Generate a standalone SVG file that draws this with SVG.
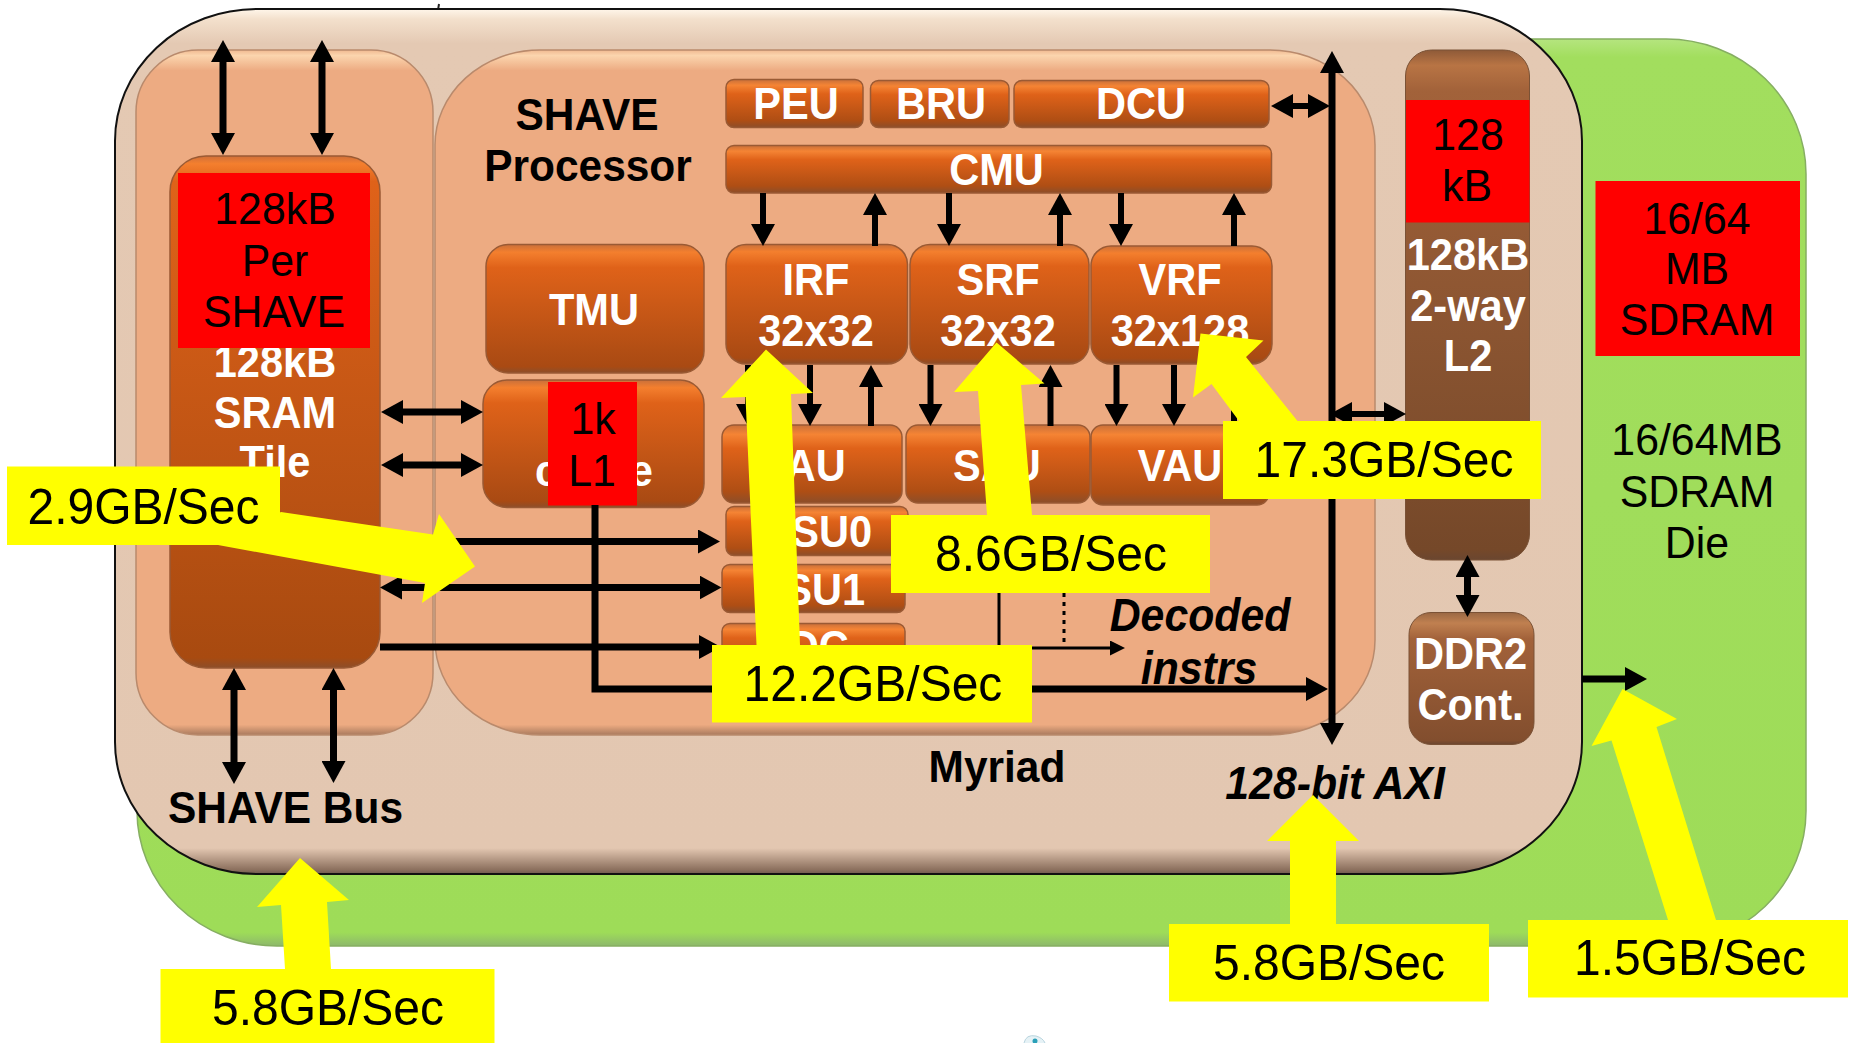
<svg xmlns="http://www.w3.org/2000/svg" width="1862" height="1043" viewBox="0 0 1862 1043">
<defs>
<linearGradient id="gGreen" x1="0" y1="0" x2="0" y2="1"><stop offset="0" stop-color="#B5E57F"/><stop offset="0.02" stop-color="#A2DE5E"/><stop offset="0.985" stop-color="#9EDC58"/><stop offset="1" stop-color="#8DB86C"/></linearGradient>
<linearGradient id="gMyr" x1="0" y1="0" x2="0" y2="1"><stop offset="0" stop-color="#FFF6EA"/><stop offset="0.012" stop-color="#F3E0CC"/><stop offset="0.04" stop-color="#E4C9B3"/><stop offset="0.97" stop-color="#E3C7B1"/><stop offset="0.995" stop-color="#8C705E"/><stop offset="1" stop-color="#6E5A50"/></linearGradient>
<linearGradient id="gPanel" x1="0" y1="0" x2="0" y2="1"><stop offset="0" stop-color="#F0B890"/><stop offset="0.008" stop-color="#FBD5AE"/><stop offset="0.03" stop-color="#EDAB82"/><stop offset="0.985" stop-color="#EDAB82"/><stop offset="1" stop-color="#A97A5E"/></linearGradient>
<linearGradient id="gSm" x1="0" y1="0" x2="0" y2="1"><stop offset="0" stop-color="#C9703A"/><stop offset="0.12" stop-color="#F58434"/><stop offset="0.3" stop-color="#DF6219"/><stop offset="0.85" stop-color="#AF4E14"/><stop offset="1" stop-color="#8C4E2A"/></linearGradient>
<linearGradient id="gMd" x1="0" y1="0" x2="0" y2="1"><stop offset="0" stop-color="#C9703A"/><stop offset="0.06" stop-color="#F47F2E"/><stop offset="0.18" stop-color="#DF6219"/><stop offset="0.95" stop-color="#A94A13"/><stop offset="1" stop-color="#8C4E2A"/></linearGradient>
<linearGradient id="gSram" x1="0" y1="0" x2="0" y2="1"><stop offset="0" stop-color="#D0703A"/><stop offset="0.015" stop-color="#F47F2E"/><stop offset="0.05" stop-color="#DF6219"/><stop offset="0.98" stop-color="#A84A10"/><stop offset="1" stop-color="#8C4E2A"/></linearGradient>
<linearGradient id="gBr" x1="0" y1="0" x2="0" y2="1"><stop offset="0" stop-color="#8E5A38"/><stop offset="0.03" stop-color="#B87444"/><stop offset="0.08" stop-color="#A2623A"/><stop offset="0.98" stop-color="#754829"/><stop offset="1" stop-color="#6A4630"/></linearGradient>
<linearGradient id="gBr2" x1="0" y1="0" x2="0" y2="1"><stop offset="0" stop-color="#9A6844"/><stop offset="0.08" stop-color="#C08050"/><stop offset="0.2" stop-color="#A2623A"/><stop offset="0.97" stop-color="#824E2E"/><stop offset="1" stop-color="#6A4630"/></linearGradient>
<marker id="h" markerUnits="userSpaceOnUse" markerWidth="22" markerHeight="24" viewBox="0 0 22 24" refX="1" refY="12" orient="auto-start-reverse"><path d="M0,0 L22,12 L0,24 Z" fill="#000"/></marker>
<marker id="s" markerUnits="userSpaceOnUse" markerWidth="15" markerHeight="15" viewBox="0 0 15 15" refX="1" refY="7.5" orient="auto-start-reverse"><path d="M0,0 L15,7.5 L0,15 Z" fill="#000"/></marker>
</defs>
<style>
text{font-family:"Liberation Sans",Arial,sans-serif;font-size:44px;text-anchor:middle;transform-box:fill-box;transform-origin:center}
.w{fill:#fff;font-weight:bold;transform:translateY(1px) scaleX(.945)}
.k{fill:#000;font-weight:bold;transform:translateY(1px) scaleX(.965)}
.i{fill:#000;font-weight:bold;font-style:italic;font-size:46px;transform:translateY(2px) scaleX(.93)}
.r{fill:#000;transform:translateY(1px) scaleX(.973)}
.y{fill:#000;font-size:50px;transform:scaleX(.96)}
.sm{fill:url(#gSm);stroke:#9A5A34;stroke-width:1.5}
.md{fill:url(#gMd);stroke:#9A5A34;stroke-width:1.5}
.red{fill:#FF0000}
.ye{fill:#FFFF00}
.pn{fill:url(#gPanel);stroke:#B98A6C;stroke-width:1.5}
.b{fill:none;stroke:#000;stroke-width:7;marker-start:url(#h);marker-end:url(#h)}
.e{fill:none;stroke:#000;stroke-width:7;marker-end:url(#h)}
.n{stroke-width:6}
</style>
<rect width="1862" height="1043" fill="#fff"/>
<path d="M439,4 L438,10" stroke="#222" stroke-width="2" fill="none"/>
<path d="M1024,1043 Q1026,1034 1036,1036 Q1043,1038 1045,1043" fill="#E6F2F6" stroke="#B8D4DE" stroke-width="1"/>
<circle cx="1035" cy="1041" r="2.5" fill="#2AA0B8"/>

<g id="sdram-die">
<rect x="137" y="39" width="1669" height="907" rx="140" ry="135" fill="url(#gGreen)" stroke="#86AE62" stroke-width="1.5"/>
<text class="r" x="1697" y="454">16/64MB</text>
<text class="r" x="1697" y="506.500">SDRAM</text>
<text class="r" x="1697" y="557.500">Die</text>
</g>
<g id="sdram-size">
<rect class="red" x="1595.5" y="181" width="204.5" height="175"/>
<text class="r" x="1697" y="233">16/64</text>
<text class="r" x="1697" y="283.500">MB</text>
<text class="r" x="1697" y="334.500">SDRAM</text>
</g>
<g id="myriad">
<rect x="115" y="9" width="1467" height="865" rx="142" ry="132" fill="url(#gMyr)" stroke="#111" stroke-width="2"/>
<text class="k" x="997" y="781">Myriad</text>
</g>
<g id="shave-bus">
<rect class="pn" x="136" y="50" width="297" height="685" rx="62" ry="62"/>
<text class="k" x="285.500" y="822">SHAVE Bus</text>
</g>
<g id="shave-processor">
<rect class="pn" x="435" y="50" width="940" height="685" rx="105" ry="95"/>
<text class="k" x="587" y="129.500">SHAVE</text>
<text class="k" x="588" y="180">Processor</text>
</g>
<g id="sram-tile">
<rect x="170" y="156" width="210" height="512" rx="36" fill="url(#gSram)" stroke="#9A5A34" stroke-width="1.5"/>
<text class="w" x="275" y="376">128kB</text>
<text class="w" x="275" y="427">SRAM</text>
<text class="w" x="275" y="476">Tile</text>
</g>
<g id="sram-size">
<rect class="red" x="178" y="173" width="192" height="175"/>
<text class="r" x="275" y="223">128kB</text>
<text class="r" x="275" y="275.500">Per</text>
<text class="r" x="274" y="326.500">SHAVE</text>
</g>
<g id="tmu"><rect class="md" x="486" y="244.500" width="218" height="128.500" rx="22"/><text class="w" x="594" y="324.500">TMU</text></g>
<g id="cache"><rect class="md" x="483" y="380" width="221" height="127.500" rx="24"/><text class="w" x="594" y="485">cache</text></g>
<g id="l1-size"><rect class="red" x="548" y="382" width="89" height="123.500"/><text class="r" x="593" y="433">1k</text><text class="r" x="592" y="485.500">L1</text></g>
<g id="peu"><rect class="sm" x="726" y="79.500" width="137" height="48" rx="8"/><text class="w" x="796" y="118.500">PEU</text></g>
<g id="bru"><rect class="sm" x="870.500" y="80.500" width="138.500" height="47" rx="8"/><text class="w" x="941" y="118.500">BRU</text></g>
<g id="dcu"><rect class="sm" x="1014" y="80.500" width="255" height="47" rx="8"/><text class="w" x="1141" y="118.500">DCU</text></g>
<g id="cmu"><rect class="sm" x="726" y="145.500" width="545.500" height="47.500" rx="8"/><text class="w" x="996.500" y="184.500">CMU</text></g>
<g id="irf"><rect class="md" x="726" y="244.500" width="181.500" height="119.500" rx="20"/><text class="w" x="816" y="294.500">IRF</text><text class="w" x="816" y="345.500">32x32</text></g>
<g id="srf"><rect class="md" x="910" y="244.500" width="179" height="119.500" rx="20"/><text class="w" x="998" y="294.500">SRF</text><text class="w" x="998" y="345.500">32x32</text></g>
<g id="vrf"><rect class="md" x="1091" y="246" width="181" height="118" rx="20"/><text class="w" x="1180" y="294.500">VRF</text><text class="w" x="1180" y="345.500">32x128</text></g>
<g id="iau"><rect class="sm" x="722" y="425" width="180" height="78" rx="12"/><text class="w" x="810" y="480">IAU</text></g>
<g id="sau"><rect class="sm" x="906" y="425" width="184" height="78" rx="12"/><text class="w" x="997" y="480">SAU</text></g>
<g id="vau"><rect class="sm" x="1091" y="425" width="178" height="80" rx="12"/><text class="w" x="1180" y="480">VAU</text></g>
<g id="lsu0"><rect class="sm" x="726" y="506.500" width="182" height="49" rx="8"/><text class="w" x="819" y="546.500">LSU0</text></g>
<g id="lsu1"><rect class="sm" x="722" y="564.500" width="183" height="48" rx="8"/><text class="w" x="812" y="604.500">LSU1</text></g>
<g id="idc"><rect class="sm" x="722" y="623.500" width="183" height="48" rx="8"/><text class="w" x="813" y="661">IDC</text></g>
<g id="l2"><rect x="1405.500" y="50" width="124" height="510" rx="26" fill="url(#gBr)" stroke="#7A5236" stroke-width="1"/>
<text class="w" x="1468" y="269">128kB</text><text class="w" x="1468" y="320">2-way</text><text class="w" x="1468" y="370.500">L2</text></g>
<g id="l2-size"><rect class="red" x="1406" y="100" width="123.500" height="122.500"/><text class="r" x="1468" y="149.500">128</text><text class="r" x="1467" y="200.500">kB</text></g>
<g id="ddr2"><rect x="1409" y="612.500" width="125" height="132" rx="22" fill="url(#gBr2)" stroke="#7A5236" stroke-width="1"/>
<text class="w" x="1470.500" y="668">DDR2</text><text class="w" x="1470.500" y="719">Cont.</text></g>
<text class="i" x="1200" y="629">Decoded</text>
<text class="i" x="1199" y="682">instrs</text>
<text class="i" x="1335" y="797">128-bit AXI</text>

<g id="connectors">
<path class="b" d="M223,61V134"/><path class="b" d="M322,61V134"/>
<path class="b" d="M234,689V763"/><path class="b" d="M333.500,689V762"/>
<path class="b" d="M402,412H462"/><path class="b" d="M402,465H462"/>
<path class="e" d="M400,541.500H699"/>
<path class="b" d="M401,587.500H700.500"/>
<path class="e" d="M380,647H700"/>
<path class="e" d="M595,505V689H1307"/>
<path d="M999,593V648H1111" fill="none" stroke="#000" stroke-width="3" marker-end="url(#s)"/>
<path d="M1064,593V648" fill="none" stroke="#000" stroke-width="3" stroke-dasharray="4 5"/>
<path class="b" d="M1332,72V724"/>
<path class="b n" d="M1292,106H1309"/>
<path class="b n" d="M1351,414H1385"/>
<path class="b" d="M1467.500,576V596"/>
<path class="e" d="M1582,679H1626"/>
<path class="e n" d="M763,193V225"/><path class="e n" d="M875,246V214"/>
<path class="e n" d="M949,193V225"/><path class="e n" d="M1060,246V214"/>
<path class="e n" d="M1121,193V225"/><path class="e n" d="M1234,246V214"/>
<path class="e n" d="M748,365V405"/><path class="e n" d="M810,365V405"/><path class="e n" d="M871,426V386"/>
<path class="e n" d="M930.500,365V405"/><path class="e n" d="M1050.500,426V386"/>
<path class="e n" d="M1116.500,365V405"/><path class="e n" d="M1174,365V405"/><path class="e n" d="M1234,426V386"/>
</g>

<g id="rate-2-9">
<polygon class="ye" points="281,512 433,534.500 439,514 475,566.500 422,603 425,583 218,545"/>
<rect class="ye" x="7" y="466.500" width="273" height="78.500"/>
<text class="y" x="143.500" y="524">2.9GB/Sec</text>
</g>
<g id="rate-12-2">
<polygon class="ye" points="766,349.500 813,393 791,394 800,645 756.500,645 745.500,397 721,398"/>
<rect class="ye" x="712" y="645" width="320" height="77.500"/>
<text class="y" x="873" y="701">12.2GB/Sec</text>
</g>
<g id="rate-8-6">
<polygon class="ye" points="996.500,342.500 1044.500,383.500 1021,385 1032,515 987,515 978,391 954,392"/>
<rect class="ye" x="891" y="515" width="319" height="78"/>
<text class="y" x="1051" y="571.500">8.6GB/Sec</text>
</g>
<g id="rate-17-3">
<polygon class="ye" points="1200.500,333.500 1263.500,340.500 1246,357 1297.500,421 1239,421 1211.500,384 1193,397.500"/>
<rect class="ye" x="1223" y="421" width="318" height="78"/>
<text class="y" x="1384" y="477">17.3GB/Sec</text>
</g>
<g id="rate-5-8-bus">
<polygon class="ye" points="300,858 349,900 327,902 331,969 285,969 281,905 257,907"/>
<rect class="ye" x="160.500" y="969" width="334" height="74"/>
<text class="y" x="328" y="1025">5.8GB/Sec</text>
</g>
<g id="rate-5-8-axi">
<polygon class="ye" points="1313,795 1359,841 1336,841 1336,924 1290,924 1290,841 1267,841"/>
<rect class="ye" x="1169" y="924" width="320" height="77.500"/>
<text class="y" x="1329" y="980">5.8GB/Sec</text>
</g>
<g id="rate-1-5">
<polygon class="ye" points="1622.500,689 1677,719 1656.500,727 1716,920 1668,920 1611.500,740.500 1591.500,746"/>
<rect class="ye" x="1528" y="920" width="320" height="77.500"/>
<text class="y" x="1690" y="975.500">1.5GB/Sec</text>
</g>
</svg>
